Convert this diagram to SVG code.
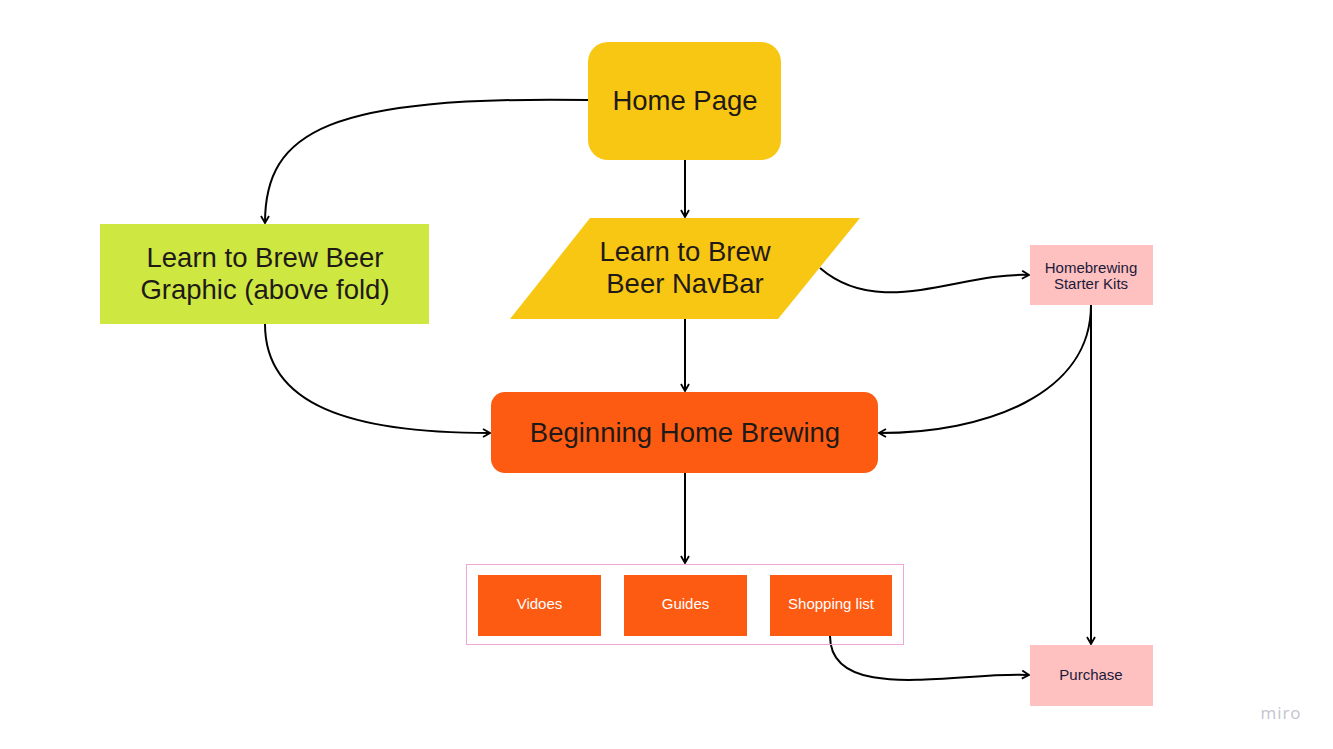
<svg xmlns="http://www.w3.org/2000/svg" width="1333" height="749" viewBox="0 0 1333 749">
<style>
.big{font-family:"Liberation Sans",Arial,sans-serif;font-size:27.5px;fill:#1f1a17;text-anchor:middle}
.sm{font-family:"Liberation Sans",Arial,sans-serif;font-size:15px;text-anchor:middle}
.dark{fill:#1a1a3a}
.white{fill:#ffffff}
.conn{fill:none;stroke:#000;stroke-width:2;marker-end:url(#arr)}
</style>
<defs>
<marker id="arr" viewBox="0 0 10 10" refX="9" refY="5" markerWidth="10" markerHeight="10" markerUnits="userSpaceOnUse" orient="auto">
<path d="M2,1 L9,5 L2,9" fill="none" stroke="#000" stroke-width="1.8"/>
</marker>
</defs>
<rect width="1333" height="749" fill="#ffffff"/>
<g id="connectors">
<path class="conn" d="M588,100 C330,96 265,130 265,223"/>
<path class="conn" d="M685,160 L685,217"/>
<path class="conn" d="M685,319 L685,391"/>
<path class="conn" d="M685,473 L685,563"/>
<path class="conn" d="M265,324 C265,405 350,433 490,433"/>
<path class="conn" d="M820,268 C880,320 960,272 1029,275"/>
<path class="conn" d="M1091,305 C1091,395 985,433 879,433"/>
<path class="conn" d="M1091,305 L1091,644"/>
<path class="conn" d="M830,636 C830,705 960,671 1029,675"/>
</g>
<g id="home-page">
<rect x="588" y="42" width="193" height="118" rx="20" fill="#f8c714"/>
<text class="big" x="685" y="110">Home Page</text>
</g>
<g id="navbar">
<polygon points="590,218 860,218 778,319 510,319" fill="#f8c714"/>
<text class="big" x="685" y="261">Learn to Brew</text>
<text class="big" x="685" y="293">Beer NavBar</text>
</g>
<g id="graphic">
<rect x="100" y="224" width="329" height="100" fill="#cee741"/>
<text class="big" x="265" y="267">Learn to Brew Beer</text>
<text class="big" x="265" y="299">Graphic (above fold)</text>
</g>
<g id="beginning">
<rect x="491" y="392" width="387" height="81" rx="14" fill="#fd5a12"/>
<text class="big" x="685" y="442">Beginning Home Brewing</text>
</g>
<g id="starter-kits">
<rect x="1030" y="245" width="123" height="60" fill="#ffc0c0"/>
<text class="sm dark" x="1091" y="273">Homebrewing</text>
<text class="sm dark" x="1091" y="289">Starter Kits</text>
</g>
<g id="container">
<rect x="466.5" y="564.5" width="437" height="80" fill="none" stroke="#f2a6d8" stroke-width="1"/>
</g>
<g id="videos">
<rect x="478" y="575" width="123" height="61" fill="#fd5a12"/>
<text class="sm white" x="539.5" y="609">Vidoes</text>
</g>
<g id="guides">
<rect x="624" y="575" width="123" height="61" fill="#fd5a12"/>
<text class="sm white" x="685.5" y="609">Guides</text>
</g>
<g id="shopping-list">
<rect x="770" y="575" width="122" height="61" fill="#fd5a12"/>
<text class="sm white" x="831" y="609">Shopping list</text>
</g>
<g id="purchase">
<rect x="1030" y="645" width="123" height="61" fill="#ffc0c0"/>
<text class="sm dark" x="1091" y="680">Purchase</text>
</g>
<text x="1281" y="719" font-family="'Open Sans','Liberation Sans',sans-serif" font-size="17" fill="#c4c4cc" text-anchor="middle" letter-spacing="1">miro</text>
</svg>
